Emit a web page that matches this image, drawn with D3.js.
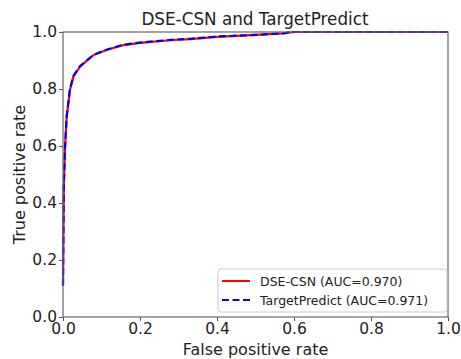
<!DOCTYPE html>
<html>
<head>
<meta charset="utf-8">
<script src="https://d3js.org/d3.v7.min.js"></script>
<style>
  body { margin: 0; background: #fff; }
  svg text { font-family: "DejaVu Sans", sans-serif; fill: #222; }
</style>
</head>
<body>
<svg width="461" height="359"></svg>
<script>
// ROC points
var fprCSN = [0, 0.002, 0.005, 0.0095, 0.018, 0.027, 0.044, 0.079, 0.113, 0.156, 0.2, 0.286, 0.33, 0.4, 0.5, 0.571, 0.6, 1.0];
var tprCSN = [0.11, 0.45, 0.586, 0.70, 0.796, 0.843, 0.878, 0.919, 0.937, 0.954, 0.962, 0.972, 0.975, 0.983, 0.99, 0.995, 1.0, 1.0];
var fprTP  = [0, 0.002, 0.005, 0.0095, 0.018, 0.027, 0.044, 0.079, 0.113, 0.156, 0.2, 0.286, 0.33, 0.4, 0.5, 0.571, 0.6, 1.0];
var tprTP  = [0.11, 0.46, 0.59, 0.705, 0.80, 0.846, 0.880, 0.920, 0.938, 0.955, 0.963, 0.973, 0.976, 0.984, 0.99, 0.995, 1.0, 1.0];
var ticks = [0.0, 0.2, 0.4, 0.6, 0.8, 1.0];
var labels = ["DSE-CSN (AUC=0.970)", "TargetPredict (AUC=0.971)"];

var svg = d3.select("svg"),
    pl = 63, pr = 448, pt = 32, pb = 317;

var x = d3.scaleLinear().domain([0, 1]).range([pl, pr]);
var y = d3.scaleLinear().domain([0, 1]).range([pb, pt]);

var xAxis = svg.append("g").attr("transform", "translate(0," + pb + ")")
    .call(d3.axisBottom(x).tickValues(ticks).tickFormat(d3.format(".1f")).tickSize(4).tickPadding(2));
var yAxis = svg.append("g").attr("transform", "translate(" + pl + ",0)")
    .call(d3.axisLeft(y).tickValues(ticks).tickFormat(d3.format(".1f")).tickSize(4).tickPadding(2));

[xAxis, yAxis].forEach(function(a) {
    a.select(".domain").remove();
    a.selectAll("line").attr("stroke", "#555");
    a.selectAll("text").style("font-size", "15.5px").style("font-family", "DejaVu Sans").attr("fill", "#222");
});

var line = d3.line().x(function(d) { return x(d[0]); }).y(function(d) { return y(d[1]); });

svg.append("path")
    .attr("d", line(d3.zip(fprCSN, tprCSN)))
    .attr("fill", "none").attr("stroke", "#ff0000").attr("stroke-width", 2.2);
svg.append("path")
    .attr("d", line(d3.zip(fprTP, tprTP)))
    .attr("fill", "none").attr("stroke", "#0000ff").attr("stroke-width", 2.2)
    .attr("stroke-dasharray", "7,3.5");

// frame
svg.append("rect")
    .attr("x", pl).attr("y", pt)
    .attr("width", pr - pl).attr("height", pb - pt)
    .attr("fill", "none").attr("stroke", "#666").attr("stroke-width", 1.2);

svg.append("text")
    .attr("x", 255).attr("y", 25)
    .attr("text-anchor", "middle").style("font-size", "16.8px")
    .text("DSE-CSN and TargetPredict");

svg.append("text")
    .attr("x", (pl + pr) / 2).attr("y", 355)
    .attr("text-anchor", "middle").style("font-size", "16px")
    .text("False positive rate");

svg.append("text")
    .attr("transform", "translate(25," + (pt + pb) / 2 + ") rotate(-90)")
    .attr("text-anchor", "middle").style("font-size", "16px")
    .text("True positive rate");

// legend
var lg = svg.append("g");
lg.append("rect")
    .attr("x", 218).attr("y", 269).attr("width", 229).attr("height", 43).attr("rx", 3)
    .attr("fill", "#fff").attr("fill-opacity", 0.8).attr("stroke", "#ccc");
var colors = ["#ff0000", "#0000ff"];
labels.forEach(function(l, i) {
    var yy = 281 + i * 19;
    lg.append("line")
        .attr("x1", 222).attr("x2", 250).attr("y1", yy).attr("y2", yy)
        .attr("stroke", colors[i]).attr("stroke-width", 2)
        .attr("stroke-dasharray", i ? "7,3.5" : null);
    lg.append("text")
        .attr("x", 260).attr("y", yy + 4.5).style("font-size", "12.5px")
        .text(l);
});
</script>
</body>
</html>
